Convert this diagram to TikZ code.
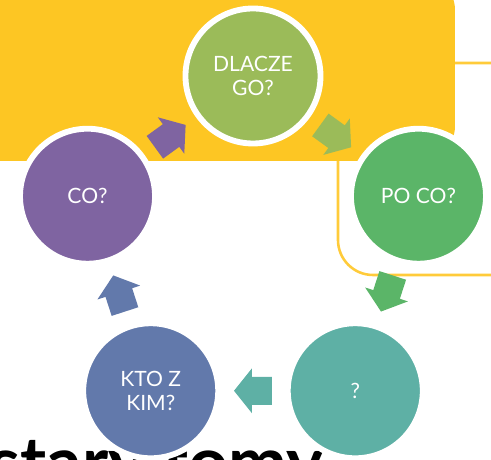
\documentclass[tikz,border=0pt]{standalone}
\usepackage{fontspec}
\setmainfont{Lato}
\usepackage{tikz}
\usetikzlibrary{calc}

\definecolor{slideyellow}{HTML}{FDC623}
\definecolor{frameyellow}{HTML}{FFCB3A}
\definecolor{colive}{HTML}{9BBB59}
\definecolor{cgreen}{HTML}{5BB568}
\definecolor{cteal}{HTML}{5EB0A5}
\definecolor{cblue}{HTML}{6279AB}
\definecolor{cpurple}{HTML}{7F64A1}

\tikzset{
  flow arrow/.pic={
    \fill (-19,-14) -- (1,-14) -- (1,-22.5) -- (19,0) -- (1,22.5) -- (1,14) -- (-19,14) -- cycle;
  }
}

\begin{document}
\begin{tikzpicture}[x=0.03cm,y=0.03cm,
  main node/.style={circle,draw=white,line width=5pt,minimum size=4.05cm,
    inner sep=0pt,align=center,text=white,font=\fontsize{18}{20}\selectfont}]
  \useasboundingbox (-253,-210) rectangle (238,250);
  \clip (-253,-210) rectangle (238,250);
  % background boxes
  \draw[frameyellow,line width=2.2pt,rounded corners=1.05cm] (85,-25) rectangle (290,187);
  \fill[slideyellow,rounded corners=1.05cm] (-290,89) rectangle (202,275);
  \node[anchor=base west,inner sep=0pt,font=\fontsize{60}{66}\selectfont\bfseries]
    (title) at (-264,-238) {stary tomy};
  % the cycle
  \node[main node,fill=colive] (dlacze) at (90:174) {DLACZE\\GO?};
  \node[main node,fill=cgreen] (poco) at (18:174) {PO CO?};
  \node[main node,fill=cteal] (pytanie) at (-54:174) {?};
  \node[main node,fill=cblue] (ktozkim) at (-126:174) {KTO Z\\KIM?};
  \node[main node,fill=cpurple] (co) at (162:174) {CO?};
  \foreach \a/\b/\c/\r in {co/dlacze/cpurple/36, dlacze/poco/colive/-36,
      poco/pytanie/cgreen/-108, pytanie/ktozkim/cteal/180, ktozkim/co/cblue/108}
    \path ($(\a)!0.5!(\b)$) pic[fill=\c,rotate=\r] {flow arrow};
\end{tikzpicture}
\end{document}
